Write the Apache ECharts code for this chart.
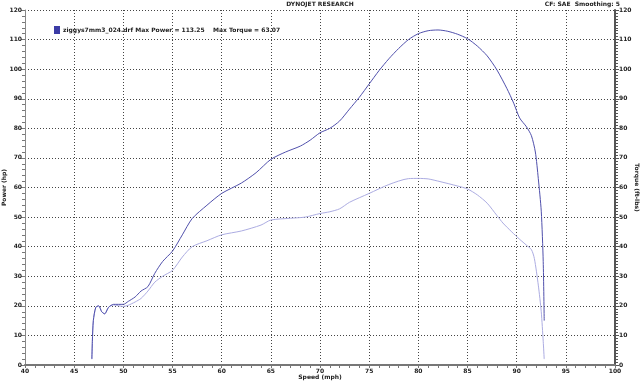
<!DOCTYPE html>
<html>
<head>
<meta charset="utf-8">
<script src="https://cdn.jsdelivr.net/npm/echarts@6/dist/echarts.min.js"></script>
<style>
  html, body { margin: 0; padding: 0; background: #fff; }
  #chart { width: 640px; height: 381px; }
</style>
</head>
<body>
<div id="chart"></div>
<script>
  // speed (mph) / power (hp) pairs
  const powerSpeed = [46.8, 46.85, 46.95, 47.2, 47.5, 47.8, 48.1, 48.5, 49, 50, 50.5, 51.2, 51.8, 52.5, 53.2, 54, 55, 56, 57, 58.5, 60, 62, 63.5, 65, 66.5, 68, 69, 70, 71, 72, 73, 74, 75, 76, 77, 78, 79, 80, 81, 82, 83, 84, 85, 86, 87, 88, 89, 89.7, 90.3, 91, 91.5, 91.9, 92.2, 92.5, 92.7, 92.8];
  const powerHp = [2, 8, 15, 19.5, 20, 18, 17.3, 19.5, 20.5, 20.5, 21.5, 23, 25, 26.5, 31, 35, 38.5, 44, 49.5, 54, 58, 61.5, 65, 69.5, 72, 74, 76, 78.5, 80, 82.5, 86.5, 90.5, 95, 99.5, 103.5, 107, 110, 112, 113, 113.25, 112.8, 111.8, 110.3, 107.8, 104.5, 99.7, 93.5, 88.5, 83.5, 80.5, 77.5, 72, 63, 52, 35, 15];

  const torqueSpeed = [46.8, 46.85, 46.95, 47.2, 47.5, 47.8, 48.1, 48.5, 49, 50, 50.5, 51.2, 51.8, 52.5, 53.2, 54, 55, 56, 57, 58.5, 60, 62, 64, 65, 67, 68.5, 70, 71, 72, 73, 75, 77, 79, 80, 81, 82.2, 84, 85, 86, 87, 88, 88.6, 89.5, 90.3, 91, 91.5, 91.8, 92.2, 92.5, 92.7, 92.8];
  const torqueFtlbs = [2, 8, 15, 19.5, 20, 18, 17.3, 19.5, 20.3, 19.8, 20.2, 21.3, 22.5, 25, 28, 30, 32, 36.5, 40, 42, 44, 45.3, 47.3, 49, 49.6, 50, 51.2, 51.8, 52.8, 55, 58, 61, 63, 63.07, 62.9, 62, 60.5, 59.5, 57.5, 54.7, 50.5, 48, 45, 42.5, 40.5, 39, 36, 27, 18, 8, 2];

  const legendText = 'ziggys7mm3_024.drf Max Power = 113.25    Max Torque = 63.07';

  const zip = (xs, ys) => xs.map((x, i) => [x, ys[i]]);

  const font = { fontFamily: 'DejaVu Sans', fontWeight: 'bold', fontSize: 6, color: '#222' };

  const chart = echarts.init(document.getElementById('chart'));
  chart.setOption({
    animation: false,
    backgroundColor: '#fff',
    title: [
      { text: 'DYNOJET RESEARCH', left: 'center', top: 0, padding: [1, 0], textStyle: font },
      { text: 'CF: SAE  Smoothing: 5', right: 20, top: 0, padding: [1, 0], textStyle: font }
    ],
    legend: {
      left: 54, top: 26, padding: 0,
      itemWidth: 6, itemHeight: 8, itemGap: 4,
      data: [{ name: 'Power', icon: 'rect' }],
      formatter: () => legendText,
      textStyle: Object.assign({ padding: [0, 0, 0, -2] }, font)
    },
    grid: { left: 25, right: 25, top: 10, bottom: 16, containLabel: false, outerBoundsMode: 'none' },
    xAxis: {
      type: 'value', min: 40, max: 100, interval: 5,
      name: 'Speed (mph)', nameLocation: 'middle', nameGap: 9, nameMoveOverlap: false,
      nameTextStyle: font,
      axisLine: { lineStyle: { color: '#777', width: 2 } },
      axisTick: { show: true, length: 3, lineStyle: { color: '#777' } },
      minorTick: { show: true, splitNumber: 5, length: 3, lineStyle: { color: '#777' } },
      axisLabel: Object.assign({ margin: 3 }, font),
      splitLine: { show: true, lineStyle: { color: '#444', type: [1, 2], width: 1 } }
    },
    yAxis: [
      {
        type: 'value', min: 0, max: 120, interval: 10, position: 'left',
        name: 'Power (hp)', nameLocation: 'middle', nameGap: 18, nameRotate: 90, nameMoveOverlap: false,
        nameTextStyle: font,
        axisLine: { show: true, lineStyle: { color: '#888', width: 1 } },
        axisTick: { show: true, length: 4, lineStyle: { color: '#777' } },
        minorTick: { show: true, splitNumber: 5, length: 3, lineStyle: { color: '#777' } },
        axisLabel: Object.assign({ margin: 3 }, font),
        splitLine: { show: true, lineStyle: { color: '#444', type: [1, 2], width: 1 } }
      },
      {
        type: 'value', min: 0, max: 120, interval: 10, position: 'right',
        name: 'Torque (ft-lbs)', nameLocation: 'middle', nameGap: 19, nameRotate: -90, nameMoveOverlap: false,
        nameTextStyle: font,
        axisLine: { show: true, lineStyle: { color: '#555', width: 2 } },
        axisTick: { show: true, length: 4, lineStyle: { color: '#555' } },
        minorTick: { show: true, splitNumber: 10, length: 3, lineStyle: { color: '#555' } },
        axisLabel: Object.assign({ margin: 4 }, font),
        splitLine: { show: false }
      }
    ],
    series: [
      {
        name: 'Power', type: 'line', yAxisIndex: 0,
        data: zip(powerSpeed, powerHp),
        smooth: 0.25, showSymbol: false,
        itemStyle: { color: '#3c3ca6' },
        lineStyle: { color: '#5050ac', width: 1 },
        z: 3
      },
      {
        name: 'Torque', type: 'line', yAxisIndex: 1,
        data: zip(torqueSpeed, torqueFtlbs),
        smooth: 0.25, showSymbol: false,
        itemStyle: { color: '#a8a8e0' },
        lineStyle: { color: '#acace2', width: 1 },
        z: 2
      }
    ]
  });
</script>
</body>
</html>
